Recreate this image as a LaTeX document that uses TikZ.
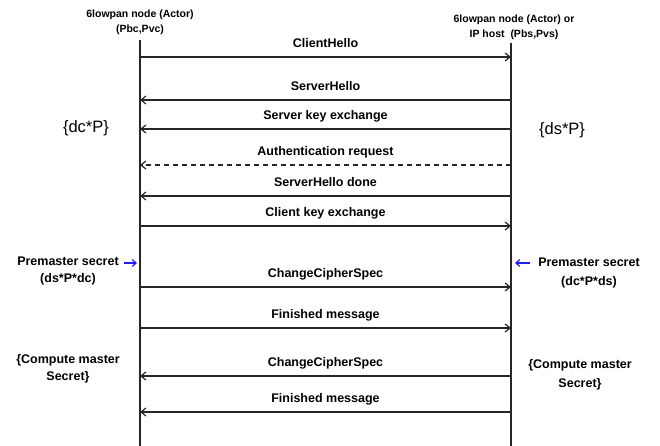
\documentclass[tikz,border=0pt]{standalone}
\usepackage{fontspec}
\setmainfont{Liberation Sans}
\usetikzlibrary{arrows.meta}
\begin{document}
\begin{tikzpicture}[x=1pt,y=-1pt,
  lifeline/.style={line width=1.4pt,draw=black!85},
  msg/.style={line width=1.4pt,draw=black!85,-{Straight Barb[length=5pt,width=8pt,line width=1.2pt]}},
  dmsg/.style={msg,dash pattern=on 5pt off 4pt},
  lbl/.style={anchor=base,yshift=9.5pt,inner sep=0pt,font=\bfseries\fontsize{12.5}{15}\selectfont},
  head/.style={align=center,inner sep=0pt,font=\bfseries\fontsize{10.5}{15}\selectfont},
  side/.style={align=center,inner sep=0pt,font=\bfseries\fontsize{12.5}{17}\selectfont},
  sider/.style={side,font=\bfseries\fontsize{12.5}{19.5}\selectfont},
  key/.style={inner sep=0pt,font=\fontsize{16.5}{18}\selectfont},
  hint/.style={line width=1.4pt,draw={rgb,255:red,30;green,30;blue,240},-{Straight Barb[length=4pt,width=7pt,line width=1.2pt]}}]
\useasboundingbox (0,0) rectangle (660,446);

% actors
\node[head] (client) at (140,22.5) {6lowpan node (Actor)\\(Pbc,Pvc)};
\node[head] (server) at (514,27.5) {6lowpan node (Actor) or\\IP host~ (Pbs,Pvs)};

% lifelines
\coordinate (ltop) at (140,40);
\coordinate (lbot) at (140,446);
\coordinate (rtop) at (511,43);
\coordinate (rbot) at (511,446);
\draw[lifeline] (ltop) -- (lbot);
\draw[lifeline] (rtop) -- (rbot);

% message end points
\foreach \n/\y in {1/57,2/100,3/129,4/165,5/196,6/226,7/287,8/328,9/376,10/412}{
  \coordinate (l\n) at (140,\y);
  \coordinate (r\n) at (511,\y);
}

% handshake messages
\draw[msg]  (l1) -- (r1) node[lbl,midway] {ClientHello};
\draw[msg]  (r2) -- (l2) node[lbl,midway] {ServerHello};
\draw[msg]  (r3) -- (l3) node[lbl,midway] {Server key exchange};
\draw[dmsg] (r4) -- (l4) node[lbl,midway] {Authentication request};
\draw[msg]  (r5) -- (l5) node[lbl,midway] {ServerHello done};
\draw[msg]  (l6) -- (r6) node[lbl,midway] {Client key exchange};
\draw[msg]  (l7) -- (r7) node[lbl,midway] {ChangeCipherSpec};
\draw[msg]  (l8) -- (r8) node[lbl,midway] {Finished message};
\draw[msg]  (r9) -- (l9) node[lbl,midway] {ChangeCipherSpec};
\draw[msg]  (r10) -- (l10) node[lbl,midway] {Finished message};

% public keys
\node[key] (kc) at (86,128) {\{dc*P\}};
\node[key] (ks) at (562,130) {\{ds*P\}};

% premaster secrets
\node[side] (pmc) at (68,271) {Premaster secret\\(ds*P*dc)};
\node[sider] (pms) at (589,273) {Premaster secret\\(dc*P*ds)};
\coordinate (pmcend) at (137,263);
\coordinate (pmsend) at (515,263);
\draw[hint] ([xshift=-13pt]pmcend) -- (pmcend);
\draw[hint] ([xshift=15pt]pmsend) -- (pmsend);

% master secret
\node[side] (mc) at (68,369) {\{Compute master\\Secret\}};
\node[sider] (ms) at (580,375) {\{Compute master\\Secret\}};
\end{tikzpicture}
\end{document}
